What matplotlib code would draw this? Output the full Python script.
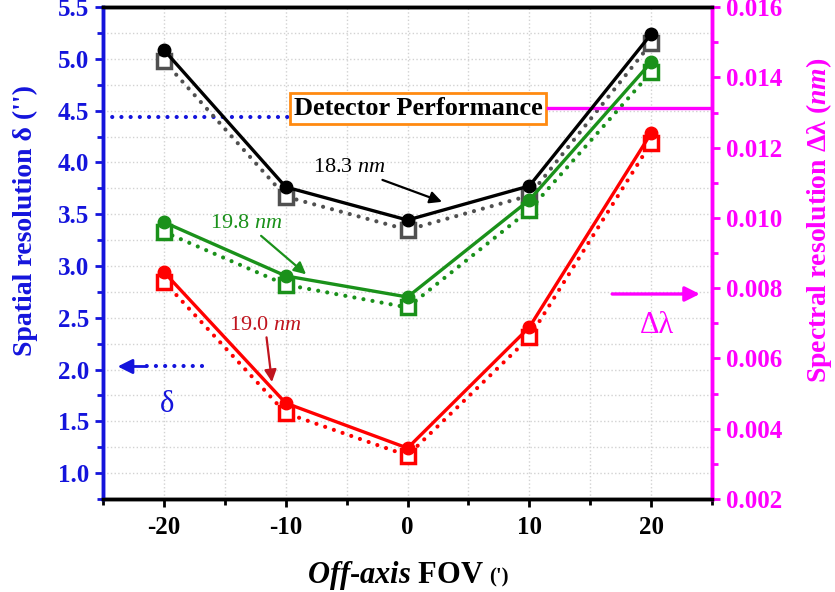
import matplotlib
matplotlib.use("Agg")
import matplotlib.pyplot as plt
from matplotlib.ticker import MultipleLocator, FormatStrFormatter

plt.rcParams['font.family'] = ['Liberation Serif', 'DejaVu Serif']
plt.rcParams['font.weight'] = 'bold'
plt.rcParams['axes.unicode_minus'] = False
plt.rcParams['mathtext.fontset'] = 'custom'
plt.rcParams['mathtext.rm'] = 'Liberation Serif:bold'
plt.rcParams['mathtext.it'] = 'Liberation Serif:italic:bold'
plt.rcParams['mathtext.cal'] = 'Liberation Serif:italic:normal'

# off-axis field of view (')
fov = [-20, -10, 0, 10, 20]

# spatial resolution delta ('') -> left axis, dotted + open squares
delta_183 = [4.98, 3.67, 3.35, 3.68, 5.15]
delta_198 = [3.33, 2.82, 2.60, 3.54, 4.87]
delta_190 = [2.85, 1.58, 1.17, 2.31, 4.19]

# spectral resolution d_lambda (nm) -> right axis, solid + filled circles
dlam_183 = [0.01478, 0.01088, 0.00994, 0.01091, 0.01523]
dlam_198 = [0.00988, 0.00835, 0.00775, 0.01051, 0.01443]
dlam_190 = [0.00846, 0.00473, 0.00345, 0.00689, 0.01241]

# detector limits
delta_det = 4.44
dlam_det = 0.01313

blue = '#1414dc'
magenta = '#ff00ff'
black = '#000000'
gray = '#505050'
green = '#1a911a'
red = '#ff0000'
darkred = '#c0141e'

fig = plt.figure(figsize=(8.35, 5.92), dpi=100)
ax1 = fig.add_axes([0.1234, 0.157, 0.7293, 0.831])
ax2 = ax1.twinx()

dot = (0, (0.01, 2.2))
for d, c in [(delta_183, gray), (delta_198, green), (delta_190, red)]:
    ax1.plot(fov, d, linestyle=dot, dash_capstyle='round', lw=3, color=c,
             marker='s', ms=10, mfc='white', mec=c, mew=2.5, zorder=3)

for d, c in [(dlam_183, black), (dlam_198, green), (dlam_190, red)]:
    ax2.plot(fov, d, '-', lw=2.4, color=c, marker='o', ms=9, zorder=3)

# detector performance lines
ax1.plot([-25, -9.73], [delta_det, delta_det], linestyle=dot,
         dash_capstyle='round', lw=3, color=blue)
ax2.plot([11.53, 25], [dlam_det, dlam_det], '-', lw=2.4, color=magenta)

ax1.set_xlim(-25, 25)
ax1.set_ylim(0.75, 5.5)
ax2.set_ylim(0.002, 0.016)

ax1.xaxis.set_major_locator(MultipleLocator(10))
ax1.xaxis.set_minor_locator(MultipleLocator(5))
ax1.yaxis.set_major_locator(MultipleLocator(0.5))
ax1.yaxis.set_minor_locator(MultipleLocator(0.25))
ax1.yaxis.set_major_formatter(FormatStrFormatter('%.1f'))
ax2.yaxis.set_major_locator(MultipleLocator(0.002))
ax2.yaxis.set_minor_locator(MultipleLocator(0.001))
ax2.yaxis.set_major_formatter(FormatStrFormatter('%.3f'))

ax1.grid(which='both', color='#d2d2d2', linestyle=':', lw=1)
ax1.set_axisbelow(True)

ax1.tick_params(axis='x', which='major', direction='out', length=6, width=2,
                labelsize=18, colors=black, pad=6)
ax1.tick_params(axis='x', which='minor', direction='out', length=4, width=2)
ax1.tick_params(axis='y', which='major', direction='out', length=6, width=2,
                labelsize=18, colors=blue, pad=4)
ax1.tick_params(axis='y', which='minor', direction='out', length=4, width=2,
                colors=blue)
ax2.tick_params(axis='y', which='major', direction='out', length=6, width=2,
                labelsize=18, colors=magenta, pad=4)
ax2.tick_params(axis='y', which='minor', direction='out', length=4, width=2,
                colors=magenta)

for ax in (ax1, ax2):
    for s in ax.spines.values():
        s.set_linewidth(2.5)
    ax.spines['top'].set_color(black)
    ax.spines['bottom'].set_color(black)
    ax.spines['left'].set_color(blue)
    ax.spines['right'].set_color(magenta)

# axis titles
fig.text(25 / 835, 1 - 221 / 592, "Spatial resolution δ ('')", rotation=90,
         ha='center', va='center', fontsize=20, color=blue)
fig.text(819 / 835, 1 - 220 / 592, r"Spectral resolution Δλ ($\mathit{nm}$)",
         rotation=90, ha='center', va='center', fontsize=20, color=magenta)
fig.text(484 / 835, 1 - 575 / 592, r"$\mathit{Off}$-$\mathit{axis}$ FOV",
         ha='right', va='center', fontsize=22, color=black)
fig.text(489 / 835, 1 - 577 / 592, "(')", ha='left', va='center',
         fontsize=15, color=black)

# detector box
ax1.text(0.86, 4.52, 'Detector Performance', ha='center', va='center',
         fontsize=19, color=black, zorder=5,
         bbox=dict(boxstyle='square,pad=0.15', fc='white', ec='#ff8a10', lw=2))

# annotations
ax1.annotate(r'18.3 $\mathcal{nm}$', xy=(2.83, 3.62), xytext=(-4.8, 3.95),
             ha='center', va='center', fontsize=16, fontweight='normal',
             color=black, zorder=6,
             arrowprops=dict(arrowstyle='-|>', color=black, lw=1.6,
                             mutation_scale=18, shrinkA=0, shrinkB=0))
ax1.annotate(r'19.8 $\mathcal{nm}$', xy=(-8.33, 2.92), xytext=(-13.2, 3.41),
             ha='center', va='center', fontsize=16, fontweight='normal',
             color=green, zorder=6,
             arrowprops=dict(arrowstyle='-|>', color=green, lw=1.6,
                             mutation_scale=18, shrinkA=0, shrinkB=0))
ax1.annotate(r'19.0 $\mathcal{nm}$', xy=(-11.13, 1.88), xytext=(-11.7, 2.43),
             ha='center', va='center', fontsize=16, fontweight='normal',
             color=darkred, zorder=6,
             arrowprops=dict(arrowstyle='-|>', color=darkred, lw=1.6,
                             mutation_scale=18, shrinkA=0, shrinkB=0))

# axis direction arrows
ax1.plot([-16.9, -22.0], [2.03, 2.03], linestyle=dot, dash_capstyle='round',
         lw=3, color=blue)
ax1.annotate('', xy=(-23.8, 2.03), xytext=(-21.5, 2.03),
             arrowprops=dict(arrowstyle='-|>', color=blue, lw=2,
                             mutation_scale=22, shrinkA=0, shrinkB=0))
ax1.text(-19.75, 1.66, 'δ', ha='center', va='center', fontsize=22,
         fontweight='normal', color=blue)
ax1.annotate('', xy=(24.0, 2.73), xytext=(16.8, 2.73),
             arrowprops=dict(arrowstyle='-|>', color=magenta, lw=2.4,
                             mutation_scale=22, shrinkA=0, shrinkB=0))
ax1.text(20.5, 2.43, 'Δλ', ha='center', va='center', fontsize=22,
         fontweight='normal', color=magenta)

fig.savefig('out.png', dpi=100)
